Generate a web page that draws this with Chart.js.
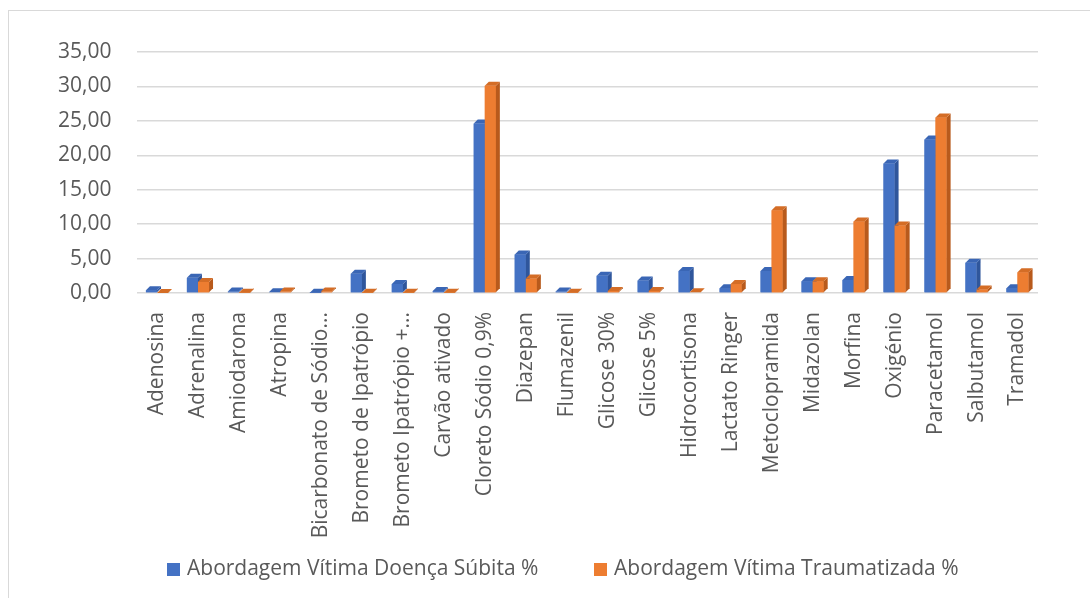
<!DOCTYPE html>
<html>
<head>
<meta charset="utf-8">
<script src="https://cdn.jsdelivr.net/npm/chart.js@4"></script>
<style>
  html, body { margin: 0; padding: 0; background: #fff; }
  #wrap { position: relative; width: 1090px; height: 598px; overflow: hidden; font-family: 'Open Sans', sans-serif; }
  #frame { position: absolute; left: 8px; top: 10px; width: 1100px; height: 600px; border: 1.5px solid #d9d9d9; box-sizing: border-box; }
  canvas { position: absolute; left: 0; top: 0; }
  .leg { position: absolute; top: 553px; height: 28px; line-height: 28px; font-size: 21px; color: #595959; white-space: nowrap; }
  .leg i { display: inline-block; width: 13px; height: 13px; margin-right: 7px; vertical-align: -1px; }
</style>
</head>
<body>
<div id="wrap">
  <div id="frame"></div>
  <canvas id="chart" width="1090" height="598"></canvas>
  <div id="legend"></div>
</div>
<script>
// Medicamentos (categorias)
const categories = [
  'Adenosina', 'Adrenalina', 'Amiodarona', 'Atropina', 'Bicarbonato de Sódio...',
  'Brometo de Ipatrópio', 'Brometo Ipatrópio +...', 'Carvão ativado', 'Cloreto Sódio 0,9%',
  'Diazepan', 'Flumazenil', 'Glicose 30%', 'Glicose 5%', 'Hidrocortisona', 'Lactato Ringer',
  'Metoclopramida', 'Midazolan', 'Morfina', 'Oxigénio', 'Paracetamol', 'Salbutamol', 'Tramadol'
];
// valores (%)
const doencaSubita = [0.4, 2.2, 0.2, 0.1, 0.05, 2.8, 1.3, 0.3, 24.6, 5.6, 0.2, 2.5, 1.8, 3.2, 0.7, 3.2, 1.7, 1.9, 18.8, 22.3, 4.4, 0.7];
const traumatizada = [0, 1.6, 0.05, 0.2, 0.2, 0.05, 0.05, 0.05, 30.1, 2.1, 0.05, 0.3, 0.3, 0.1, 1.3, 12.0, 1.7, 10.4, 9.8, 25.5, 0.5, 3.0];
const seriesNames = ['Abordagem Vítima Doença Súbita %', 'Abordagem Vítima Traumatizada %'];
const seriesColors = ['#4472c4', '#ed7d31'];
const yTicks = [0, 5, 10, 15, 20, 25, 30, 35];

const FONT = "'Open Sans', sans-serif";
const TEXT = '#595959';

// faces laterais e topo para imitar as colunas 3D do Excel
const depthColors = [
  { side: '#2f569c', top: '#3a66b5' },
  { side: '#b85a1c', top: '#d46d26' }
];
const fakeDepth = {
  id: 'fakeDepth',
  afterDatasetsDraw(chart) {
    const ctx = chart.ctx;
    const d = 4;
    ctx.save();
    chart.data.datasets.forEach((ds, i) => {
      const meta = chart.getDatasetMeta(i);
      meta.data.forEach(bar => {
        const { x, y, base, width } = bar.getProps(['x', 'y', 'base', 'width'], true);
        const l = x - width / 2, r = x + width / 2;
        ctx.fillStyle = ds.backgroundColor;
        ctx.fillRect(l, y, width, base - y);
        ctx.fillStyle = depthColors[i].side;
        ctx.beginPath();
        ctx.moveTo(r, y); ctx.lineTo(r + d, y - d); ctx.lineTo(r + d, base - d); ctx.lineTo(r, base);
        ctx.closePath(); ctx.fill();
        ctx.fillStyle = depthColors[i].top;
        ctx.beginPath();
        ctx.moveTo(l, y); ctx.lineTo(l + d, y - d); ctx.lineTo(r + d, y - d); ctx.lineTo(r, y);
        ctx.closePath(); ctx.fill();
      });
    });
    ctx.restore();
  }
};

new Chart(document.getElementById('chart'), {
  type: 'bar',
  data: {
    labels: categories,
    datasets: [
      { label: seriesNames[0], data: doencaSubita, backgroundColor: seriesColors[0] },
      { label: seriesNames[1], data: traumatizada, backgroundColor: seriesColors[1] }
    ]
  },
  options: {
    responsive: false,
    animation: false,
    layout: { padding: { left: 10, top: 52, right: 52, bottom: 60 } },
    datasets: { bar: { categoryPercentage: 0.54, barPercentage: 1.0 } },
    scales: {
      x: {
        grid: { display: false },
        border: { display: false },
        ticks: {
          autoSkip: false, minRotation: 90, maxRotation: 90, padding: 11,
          color: TEXT, font: { family: FONT, size: 21 }
        },
        afterFit(scale) { scale.height = 245; }
      },
      y: {
        min: 0, max: 35,
        afterBuildTicks(scale) { scale.ticks = yTicks.map(v => ({ value: v })); },
        grid: { color: '#d9d9d9', lineWidth: 1.5, drawTicks: false },
        border: { display: false },
        ticks: {
          padding: 25, color: TEXT, font: { family: FONT, size: 21 },
          callback: v => v.toFixed(2).replace('.', ',')
        },
        afterFit(scale) { scale.width = 126.5; }
      }
    },
    plugins: {
      tooltip: { enabled: false },
      legend: { display: false }
    }
  },
  plugins: [fakeDepth]
});

// legenda em HTML, posicionada como no original
const legendX = [167, 594];
document.getElementById('legend').innerHTML = seriesNames.map((name, i) =>
  `<div class="leg" style="left:${legendX[i]}px"><i style="background:${seriesColors[i]}"></i>${name}</div>`
).join('');
</script>
</body>
</html>
